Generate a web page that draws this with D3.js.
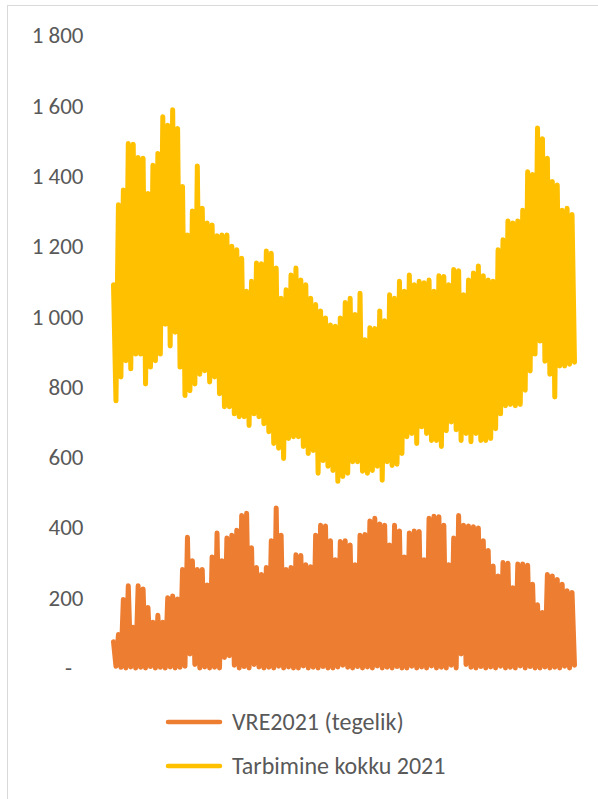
<!DOCTYPE html>
<html>
<head>
<meta charset="utf-8">
<script src="https://cdn.jsdelivr.net/npm/d3@7/dist/d3.min.js"></script>
<style>
  html, body { margin: 0; padding: 0; background: #fff; }
  svg { display: block; }
  text { font-family: Carlito, Lato, "Open Sans", "Liberation Sans", sans-serif; fill: #595959; }
</style>
</head>
<body>
<svg id="chart" width="598" height="799"></svg>
<script>
// Y axis tick values
const yTicks = [0, 200, 400, 600, 800, 1000, 1200, 1400, 1600, 1800];

// Series names
const seriesNames = ["VRE2021 (tegelik)", "Tarbimine kokku 2021"];

// Tarbimine kokku 2021 – per period peak and trough (MW)
const consHigh = [1090,1318,1360,1492,1490,1452,1450,1350,1430,1464,
  1568,1544,1588,1535,1370,1232,1300,1428,1308,1266,
  1260,1230,1232,1232,1200,1190,1166,1072,1100,1152,
  1150,1186,1180,1138,1052,1076,1118,1138,1104,1090,
  1052,1034,1016,996,976,972,996,1040,1052,1006,
  1066,934,968,966,1016,988,1062,1052,1100,1072,
  1118,1090,1100,1096,1104,1072,1116,1114,1090,1134,
  1130,1062,1104,1124,1144,1116,1104,1100,1190,1218,
  1272,1266,1272,1302,1412,1404,1536,1506,1450,1384,
  1374,1302,1308,1290];
const consLow = [760,828,874,851,893,893,808,856,874,893,
  978,916,955,856,775,789,808,836,846,814,
  828,780,743,743,723,715,715,690,723,715,
  695,672,639,625,596,653,658,658,630,610,
  619,554,590,574,562,531,545,554,587,587,
  560,554,562,574,534,587,576,580,610,658,
  667,639,686,667,647,647,630,675,700,678,
  647,667,644,667,647,647,653,681,723,746,
  750,746,750,790,845,893,930,873,836,771,
  859,859,864,870];

// VRE2021 (tegelik) – per period peak and trough (MW)
const vreHigh = [75,95,195,234,116,234,225,172,130,150,
  130,200,205,196,280,372,305,280,280,236,
  316,384,305,370,378,392,434,440,342,286,
  266,286,362,455,378,280,286,322,320,294,
  288,378,406,404,362,308,360,362,350,294,
  378,380,418,426,410,406,350,406,390,316,
  384,390,388,308,426,432,430,406,294,370,
  434,406,404,402,398,362,334,290,262,300,
  298,228,296,296,292,238,180,158,266,262,
  252,238,220,215];
const vreLow = [5,2,0,3,0,2,0,4,0,2,
  0,3,0,2,5,40,10,0,3,0,
  2,0,30,35,8,0,4,0,10,3,
  0,2,0,5,0,3,0,0,6,0,
  2,0,4,0,0,3,8,2,0,4,
  0,3,0,6,0,2,0,4,0,0,
  5,0,3,0,6,0,2,0,8,0,
  40,10,2,0,4,0,3,0,5,0,
  2,0,6,0,4,0,0,3,0,2,
  0,5,0,8];

const colors = ["#ED7D31", "#FFC000"];

const svg = d3.select("#chart");

// chart border
svg.append("rect")
  .attr("x", 7.5).attr("y", 5.5)
  .attr("width", 600).attr("height", 800)
  .attr("fill", "none").attr("stroke", "#D9D9D9").attr("stroke-width", 1);

const N = consHigh.length;
const x = d3.scaleLinear().domain([0, N - 0.5]).range([113.5, 574.5]);
const y = d3.scaleLinear().domain([0, 1800]).range([668, 35.3]);

const fmt = v => v === 0 ? "-" : d3.format(",")(v).replace(/,/g, "\u00A0");

const yAxis = d3.axisLeft(y).tickValues(yTicks).tickSize(0).tickPadding(0).tickFormat(fmt);
const gy = svg.append("g").attr("transform", "translate(83.5,0)").call(yAxis);
gy.select(".domain").remove();
gy.selectAll("text")
  .style("font-family", 'Carlito, Lato, "Open Sans", sans-serif')
  .style("font-size", "23px")
  .attr("fill", "#595959")
  .attr("dy", "0.33em")
  .attr("x", d => d === 0 ? -11.5 : 0);

function toPoints(hi, lo) {
  const pts = [];
  hi.forEach((h, i) => {
    pts.push({ t: i, v: h });
    pts.push({ t: i + 0.5, v: lo[i] });
  });
  return pts;
}

const line = d3.line().x(d => x(d.t)).y(d => y(d.v));

const series = [toPoints(vreHigh, vreLow), toPoints(consHigh, consLow)];

series.forEach((pts, k) => {
  svg.append("path")
    .datum(pts)
    .attr("d", line)
    .attr("fill", "none")
    .attr("stroke", colors[k])
    .attr("stroke-width", 5)
    .attr("stroke-linejoin", "round")
    .attr("stroke-linecap", "round");
});

// legend
const legendY = [722, 766];
seriesNames.forEach((name, k) => {
  const g = svg.append("g").attr("transform", `translate(0,${legendY[k]})`);
  g.append("line")
    .attr("x1", 168).attr("x2", 220).attr("y1", 0).attr("y2", 0)
    .attr("stroke", colors[k]).attr("stroke-width", 4.5).attr("stroke-linecap", "round");
  g.append("text")
    .attr("x", 232).attr("y", 0).attr("dy", "0.33em")
    .style("font-size", "24px")
    .text(name);
});
</script>
</body>
</html>
